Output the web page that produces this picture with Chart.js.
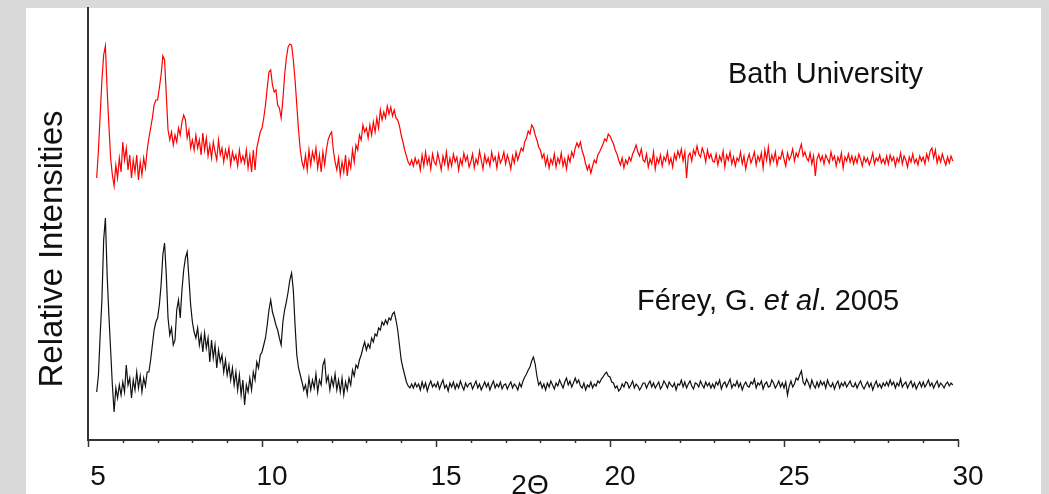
<!DOCTYPE html>
<html>
<head>
<meta charset="utf-8">
<title>PXRD comparison</title>
<script src="https://cdn.jsdelivr.net/npm/chart.js@4.4.0/dist/chart.umd.min.js"></script>
<style>
  html, body { margin: 0; padding: 0; background: #d9d9d9; }
  #wrap { width: 1049px; height: 494px; }
</style>
</head>
<body>
<div id="wrap"><canvas id="xrd" width="1049" height="494"></canvas></div>
<script>
// 2-theta positions (deg), 0.05 deg steps
const twoTheta = [
  5.25,5.3,5.35,5.4,5.45,5.5,5.55,5.6,5.65,5.7,5.75,5.8,5.85,5.9,5.95,
  6,6.05,6.1,6.15,6.2,6.25,6.3,6.35,6.4,6.45,6.5,6.55,6.6,6.65,6.7,6.75,6.8,6.85,6.9,6.95,
  7,7.05,7.1,7.15,7.2,7.25,7.3,7.35,7.4,7.45,7.5,7.55,7.6,7.65,7.7,7.75,7.8,7.85,7.9,7.95,
  8,8.05,8.1,8.15,8.2,8.25,8.3,8.35,8.4,8.45,8.5,8.55,8.6,8.65,8.7,8.75,8.8,8.85,8.9,8.95,
  9,9.05,9.1,9.15,9.2,9.25,9.3,9.35,9.4,9.45,9.5,9.55,9.6,9.65,9.7,9.75,9.8,9.85,9.9,9.95,
  10,10.05,10.1,10.15,10.2,10.25,10.3,10.35,10.4,10.45,10.5,10.55,10.6,10.65,10.7,10.75,10.8,10.85,10.9,10.95,
  11,11.05,11.1,11.15,11.2,11.25,11.3,11.35,11.4,11.45,11.5,11.55,11.6,11.65,11.7,11.75,11.8,11.85,11.9,11.95,
  12,12.05,12.1,12.15,12.2,12.25,12.3,12.35,12.4,12.45,12.5,12.55,12.6,12.65,12.7,12.75,12.8,12.85,12.9,12.95,
  13,13.05,13.1,13.15,13.2,13.25,13.3,13.35,13.4,13.45,13.5,13.55,13.6,13.65,13.7,13.75,13.8,13.85,13.9,13.95,
  14,14.05,14.1,14.15,14.2,14.25,14.3,14.35,14.4,14.45,14.5,14.55,14.6,14.65,14.7,14.75,14.8,14.85,14.9,14.95,
  15,15.05,15.1,15.15,15.2,15.25,15.3,15.35,15.4,15.45,15.5,15.55,15.6,15.65,15.7,15.75,15.8,15.85,15.9,15.95,
  16,16.05,16.1,16.15,16.2,16.25,16.3,16.35,16.4,16.45,16.5,16.55,16.6,16.65,16.7,16.75,16.8,16.85,16.9,16.95,
  17,17.05,17.1,17.15,17.2,17.25,17.3,17.35,17.4,17.45,17.5,17.55,17.6,17.65,17.7,17.75,17.8,17.85,17.9,17.95,
  18,18.05,18.1,18.15,18.2,18.25,18.3,18.35,18.4,18.45,18.5,18.55,18.6,18.65,18.7,18.75,18.8,18.85,18.9,18.95,
  19,19.05,19.1,19.15,19.2,19.25,19.3,19.35,19.4,19.45,19.5,19.55,19.6,19.65,19.7,19.75,19.8,19.85,19.9,19.95,
  20,20.05,20.1,20.15,20.2,20.25,20.3,20.35,20.4,20.45,20.5,20.55,20.6,20.65,20.7,20.75,20.8,20.85,20.9,20.95,
  21,21.05,21.1,21.15,21.2,21.25,21.3,21.35,21.4,21.45,21.5,21.55,21.6,21.65,21.7,21.75,21.8,21.85,21.9,21.95,
  22,22.05,22.1,22.15,22.2,22.25,22.3,22.35,22.4,22.45,22.5,22.55,22.6,22.65,22.7,22.75,22.8,22.85,22.9,22.95,
  23,23.05,23.1,23.15,23.2,23.25,23.3,23.35,23.4,23.45,23.5,23.55,23.6,23.65,23.7,23.75,23.8,23.85,23.9,23.95,
  24,24.05,24.1,24.15,24.2,24.25,24.3,24.35,24.4,24.45,24.5,24.55,24.6,24.65,24.7,24.75,24.8,24.85,24.9,24.95,
  25,25.05,25.1,25.15,25.2,25.25,25.3,25.35,25.4,25.45,25.5,25.55,25.6,25.65,25.7,25.75,25.8,25.85,25.9,25.95,
  26,26.05,26.1,26.15,26.2,26.25,26.3,26.35,26.4,26.45,26.5,26.55,26.6,26.65,26.7,26.75,26.8,26.85,26.9,26.95,
  27,27.05,27.1,27.15,27.2,27.25,27.3,27.35,27.4,27.45,27.5,27.55,27.6,27.65,27.7,27.75,27.8,27.85,27.9,27.95,
  28,28.05,28.1,28.15,28.2,28.25,28.3,28.35,28.4,28.45,28.5,28.55,28.6,28.65,28.7,28.75,28.8,28.85,28.9,28.95,
  29,29.05,29.1,29.15,29.2,29.25,29.3,29.35,29.4,29.45,29.5,29.55,29.6,29.65,29.7,29.75,29.8,29.85
];

// Bath University pattern (offset upwards, arbitrary units)
const bathCounts = [
  262,290,325,360,385,394,350,315,282,265,254,275,262,282,268,
  298,280,292,270,285,262,280,268,285,260,278,265,282,272,290,302,312,322,335,340,
  340,352,365,384,380,345,310,300,308,295,305,298,312,305,318,325,320,302,310,292,
  300,290,305,292,300,285,307,290,302,284,295,282,298,288,280,300,285,292,278,290,
  282,292,275,288,280,285,274,290,278,284,277,290,272,285,268,290,270,292,300,308,
  312,322,335,352,368,370,355,348,350,335,332,322,340,365,382,393,396,395,380,360,
  335,310,290,278,272,285,270,290,275,288,280,292,272,285,268,288,275,290,300,305,
  308,290,278,270,282,265,278,268,285,264,280,272,290,278,295,290,305,300,315,308,
  312,302,315,305,318,308,322,312,330,320,328,322,334,326,333,324,330,322,320,314,
  305,298,290,284,278,275,280,274,282,276,280,270,285,274,288,276,283,271,286,278,
  275,287,279,270,284,276,288,272,282,274,286,278,283,270,281,275,287,279,284,273,
  278,286,272,281,276,289,280,271,285,277,282,274,288,279,283,272,286,277,281,288,
  276,285,279,271,284,277,288,280,286,292,289,298,302,309,306,315,312,305,300,293,
  290,282,286,275,283,272,281,276,286,273,282,277,287,274,281,271,284,278,288,283,
  292,297,293,298,289,284,276,270,275,267,274,280,277,285,288,292,296,301,299,306,
  304,300,296,290,286,280,275,282,272,280,276,283,279,286,290,295,288,284,291,280,
  278,286,273,281,276,288,271,282,277,285,274,283,279,288,276,282,273,286,280,289,
  283,291,279,288,262,284,287,279,290,285,294,286,283,292,287,278,290,282,286,279,
  278,286,275,284,279,289,273,285,280,288,276,283,274,282,279,288,276,284,271,280,
  286,277,282,288,275,284,279,287,272,290,280,293,276,285,279,288,275,283,281,289,
  281,274,287,280,284,291,279,287,283,290,296,284,288,282,279,287,276,284,264,281,
  286,279,284,276,285,281,277,288,280,284,274,283,278,287,272,283,279,286,278,284,
  276,283,277,286,281,274,283,278,282,275,280,287,276,282,279,285,277,281,276,284,
  276,285,279,283,274,282,278,287,276,284,280,273,283,278,286,277,281,275,284,279,
  283,276,286,280,289,292,282,290,277,284,278,286,280,275,283,277,284,279
];

// Férey et al. 2005 reference pattern
const fereyCounts = [
  48,65,105,140,200,222,165,125,90,55,28,52,42,55,45,
  58,48,75,55,62,42,60,50,68,52,64,48,62,54,68,68,80,95,110,118,
  122,135,155,185,197,165,122,105,112,95,100,130,140,122,150,170,182,188,162,135,
  118,108,102,112,95,105,88,107,92,102,78,100,82,95,72,90,78,85,68,80,
  65,75,60,72,55,68,50,65,45,60,35,55,48,62,50,68,60,78,72,85,
  88,95,102,115,130,140,128,122,115,110,102,95,118,130,138,148,160,167,150,115,
  85,72,65,58,50,55,45,62,50,60,52,66,48,60,55,75,80,58,64,50,
  62,54,66,50,60,48,62,45,58,50,62,55,70,64,75,72,80,85,92,98,
  90,96,92,102,98,106,104,112,110,118,115,120,116,122,120,126,128,120,110,95,
  80,72,65,58,54,52,56,52,57,53,56,50,58,52,57,49,55,59,53,56,
  53,58,51,56,60,52,55,49,57,53,58,51,56,52,59,54,50,57,53,56,
  57,51,55,59,52,56,50,54,58,53,57,50,55,59,52,56,53,58,51,55,
  56,51,55,58,52,56,54,50,57,53,59,63,66,70,73,79,83,76,64,55,
  58,52,56,50,57,53,59,55,51,57,54,60,56,52,58,62,55,59,53,57,
  62,57,60,54,52,57,50,55,53,58,52,56,54,59,57,61,63,66,68,64,
  63,58,57,52,54,49,51,56,53,58,57,52,55,59,52,56,54,50,53,57,
  57,52,56,59,53,57,52,55,58,51,54,59,56,52,58,55,53,57,50,56,
  55,60,53,58,52,56,59,54,51,57,56,53,59,55,52,58,54,57,52,56,
  52,58,55,60,51,56,58,53,57,61,52,56,54,59,53,57,50,55,58,54,
  53,58,56,61,52,57,55,59,51,56,58,53,54,60,57,52,55,59,53,57,
  52,58,45,54,59,53,56,62,60,65,69,58,55,61,57,52,60,55,52,58,
  53,59,55,58,52,60,55,53,57,51,56,59,52,57,54,58,53,56,59,54,
  53,57,52,56,59,54,51,55,58,53,57,50,55,59,53,56,52,57,54,58,
  54,60,55,58,52,57,54,61,53,56,58,52,56,59,53,57,51,55,58,53,
  58,53,56,60,54,57,52,56,59,53,57,55,52,56,58,54,57,55
];

const xMin = 5, xMax = 30, xStep = 5;
const yMax = 432;

const FONT = '"Liberation Sans", Arial, sans-serif';
const INK = '#111';

const toPoints = ys => twoTheta.map((t, i) => ({ x: t, y: ys[i] }));

// grey frame with white panel behind the plot
const panelPlugin = {
  id: 'panel',
  beforeDraw(chart) {
    const ctx = chart.ctx;
    ctx.save();
    ctx.fillStyle = '#d9d9d9';
    ctx.fillRect(0, 0, chart.width, chart.height);
    ctx.fillStyle = '#ffffff';
    ctx.fillRect(26, 8, 1015, chart.height - 8);
    ctx.restore();
  }
};

// minor/major tick marks, axis titles and series captions
const annotatePlugin = {
  id: 'annotate',
  afterDraw(chart) {
    const ctx = chart.ctx;
    const xs = chart.scales.x;
    const base = chart.chartArea.bottom;
    ctx.save();
    ctx.strokeStyle = '#333';
    ctx.lineWidth = 1.5;
    for (let v = xMin; v <= xMax; v++) {
      const px = Math.round(xs.getPixelForValue(v)) + 0.5;
      const len = v % 5 === 0 ? 7 : 3;
      ctx.beginPath();
      ctx.moveTo(px, base);
      ctx.lineTo(px, base + len);
      ctx.stroke();
    }

    ctx.fillStyle = INK;
    ctx.textBaseline = 'alphabetic';

    // y title
    ctx.save();
    ctx.translate(62, 249);
    ctx.rotate(-Math.PI / 2);
    ctx.textAlign = 'center';
    ctx.font = '33px ' + FONT;
    ctx.fillText('Relative Intensities', 0, 0);
    ctx.restore();

    // x title
    ctx.textAlign = 'center';
    ctx.font = '28px ' + FONT;
    ctx.fillText('2\u0398', 530, 494);

    // captions
    ctx.textAlign = 'left';
    ctx.font = '29px ' + FONT;
    ctx.fillText('Bath University', 728, 83);

    const parts = [
      ['F\u00e9rey, G. ', ''],
      ['et', 'italic '],
      [' ', ''],
      ['al', 'italic '],
      ['. 2005', '']
    ];
    let cx = 637;
    parts.forEach(([txt, style]) => {
      ctx.font = style + '29px ' + FONT;
      ctx.fillText(txt, cx, 310);
      cx += ctx.measureText(txt).width;
    });
    ctx.restore();
  }
};

new Chart(document.getElementById('xrd'), {
  type: 'line',
  data: {
    datasets: [
      {
        label: 'Bath University',
        data: toPoints(bathCounts),
        borderColor: '#ff0000',
        borderWidth: 1.2,
        pointRadius: 0,
        tension: 0,
        fill: false
      },
      {
        label: 'Férey, G. et al. 2005',
        data: toPoints(fereyCounts),
        borderColor: '#111111',
        borderWidth: 1.2,
        pointRadius: 0,
        tension: 0,
        fill: false
      }
    ]
  },
  options: {
    responsive: false,
    animation: false,
    layout: { padding: { top: 8, right: 91, bottom: 0, left: 0 } },
    plugins: { legend: { display: false }, tooltip: { enabled: false } },
    scales: {
      x: {
        type: 'linear',
        min: xMin,
        max: xMax,
        grid: { display: false, drawTicks: false },
        border: { display: true, color: '#333', width: 2 },
        ticks: {
          stepSize: xStep,
          autoSkip: false,
          maxRotation: 0,
          padding: 20,
          labelOffset: 10,
          color: INK,
          font: { family: FONT, size: 28 }
        },
        afterFit(scale) { scale.height = 54; }
      },
      y: {
        min: 0,
        max: yMax,
        grid: { display: false, drawTicks: false },
        border: { display: true, color: '#333', width: 2 },
        ticks: { display: false },
        afterFit(scale) { scale.width = 88; }
      }
    }
  },
  plugins: [panelPlugin, annotatePlugin]
});
</script>
</body>
</html>
